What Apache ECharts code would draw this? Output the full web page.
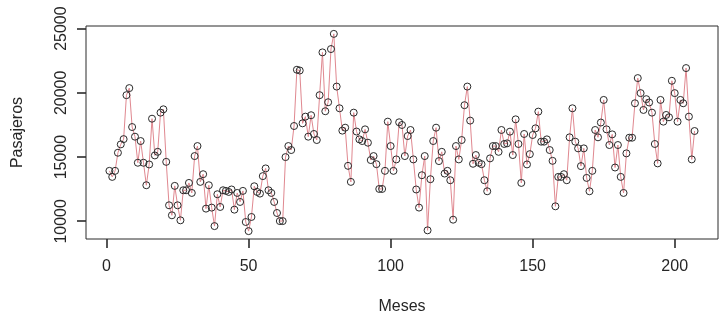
<!DOCTYPE html>
<html>
<head>
<meta charset="utf-8">
<script src="https://cdn.jsdelivr.net/npm/echarts@6/dist/echarts.min.js"></script>
<style>
  html, body { margin: 0; padding: 0; background: #ffffff; }
  #chart { width: 728px; height: 320px; }
</style>
</head>
<body>
<div id="chart"></div>
<script>
// Monthly passenger counts, month 1..207
var pasajeros = [
  13930, 13460, 13930, 15340, 15990, 16400, 19820, 20370, 17340, 16590,
  14560, 16250, 14560, 12810, 14430, 17990, 15130, 15410, 18460, 18720,
  14630, 11250, 10470, 12760, 11250, 10080, 12420, 12420, 12990, 12210,
  15080, 15860, 13070, 13670, 10990, 12810, 11070, 9630, 12110, 11120,
  12420, 12370, 12290, 12480, 10910, 12210, 11510, 12370, 9950, 9240,
  10340, 12730, 12290, 12160, 13520, 14120, 12420, 12210, 11510, 10650,
  10020, 10020, 15000, 15860, 15550, 17420, 21800, 21740, 17630, 18150,
  16590, 18260, 16800, 16330, 19820, 23150, 18570, 19270, 23410, 24590,
  20490, 18800, 17060, 17290, 14320, 13070, 18460, 16990, 16380, 16250,
  17160, 16120, 14770, 15080, 14450, 12520, 12520, 13930, 17760, 15860,
  13930, 14820, 17710, 17500, 15080, 16640, 17110, 14820, 12480, 11070,
  13590, 15080, 9300, 13280, 16250, 17290, 14690, 15410, 13720, 13930,
  13200, 10130, 15860, 14820, 16330, 19040, 20490, 17840, 14480, 15160,
  14560, 14450, 13200, 12340, 14900, 15860, 15860, 15410, 17110, 16020,
  16070, 16980, 15160, 17940, 16020, 12990, 16800, 14430, 15230, 16720,
  17240, 18540, 16200, 16200, 16380, 15550, 14710, 11170, 13460, 13460,
  13670, 13200, 16540, 18800, 16200, 15680, 14300, 15680, 13380, 12340,
  13930, 17110, 16540, 17690, 19450, 17160, 15940, 16770, 14190, 15940,
  13460, 12210, 15290, 16510, 16510, 19190, 21150, 19980, 18670, 19510,
  19250, 18460, 16020, 14510, 19450, 17760, 18280, 18100, 20940, 19980,
  17760, 19450, 19190, 21930, 18150, 14820, 17030
];
var xTicks = [0, 50, 100, 150, 200];
var yTicks = [10000, 15000, 20000, 25000];
var xTitle = 'Meses';
var yTitle = 'Pasajeros';

// month index 1..n paired with values
var points = pasajeros.map(function (v, i) { return [i + 1, v]; });

// R-style axis ranges: data range extended by 4% on each side
var n = pasajeros.length;
var xPad = (n - 1) * 0.04;
var xLo = 1 - xPad, xHi = n + xPad;
var yMin = Math.min.apply(null, pasajeros), yMax = Math.max.apply(null, pasajeros);
var yPad = (yMax - yMin) * 0.04;
var yLo = yMin - yPad, yHi = yMax + yPad;

var FONT = "'Liberation Sans', Arial, sans-serif";
var TXT = '#262626';
var AX = '#2b2b2b';
var TICK = 9;

var chart = echarts.init(document.getElementById('chart'), null, { renderer: 'canvas' });
chart.setOption({
  animation: false,
  backgroundColor: '#ffffff',
  grid: {
    left: 86, right: 10, top: 26, bottom: 81,
    show: true, borderColor: AX, borderWidth: 1, backgroundColor: 'transparent'
  },
  xAxis: {
    type: 'value',
    position: 'bottom',
    min: xLo, max: xHi,
    name: xTitle, nameLocation: 'middle', nameGap: 60,
    nameTextStyle: { fontFamily: FONT, fontSize: 16, color: TXT },
    axisLine: { show: false, onZero: false },
    axisTick: { show: false },
    axisLabel: { show: true, customValues: xTicks, margin: 20,
                 fontFamily: FONT, fontSize: 16, color: TXT,
                 formatter: function (v) { return String(v); } },
    splitLine: { show: false }
  },
  yAxis: {
    type: 'value',
    position: 'left',
    min: yLo, max: yHi,
    name: yTitle, nameLocation: 'middle', nameGap: 60,
    nameTextStyle: { fontFamily: FONT, fontSize: 16, color: TXT },
    axisLine: { show: false, onZero: false },
    axisTick: { show: false },
    axisLabel: { show: true, customValues: yTicks, rotate: 90, margin: 16,
                 fontFamily: FONT, fontSize: 16, color: TXT,
                 formatter: function (v) { return String(v); } },
    splitLine: { show: false }
  },
  series: [{
    type: 'line',
    data: points,
    symbol: 'circle',
    symbolSize: 7,
    showSymbol: true,
    lineStyle: { color: '#e08890', width: 1 },
    itemStyle: { color: 'rgba(255,255,255,0)', borderColor: '#2a2a2a', borderWidth: 1 },
    emphasis: { disabled: true },
    z: 2
  }]
});

// R-style outward tick marks, positioned through the chart's own axis scales
var tickEls = [];
xTicks.forEach(function (v) {
  var p = chart.convertToPixel({ gridIndex: 0 }, [v, yLo]);
  var x = Math.round(p[0]), y = Math.round(p[1]);
  tickEls.push({ type: 'line', silent: true, z: 100, zlevel: 1,
    shape: { x1: x, y1: y, x2: x, y2: y + TICK },
    style: { stroke: AX, lineWidth: 1.6 } });
});
yTicks.forEach(function (v) {
  var p = chart.convertToPixel({ gridIndex: 0 }, [xLo, v]);
  var x = Math.round(p[0]), y = Math.round(p[1]);
  tickEls.push({ type: 'line', silent: true, z: 100, zlevel: 1,
    shape: { x1: x - TICK, y1: y, x2: x, y2: y },
    style: { stroke: AX, lineWidth: 1.6 } });
});
chart.setOption({ graphic: { elements: tickEls } });
</script>
</body>
</html>
